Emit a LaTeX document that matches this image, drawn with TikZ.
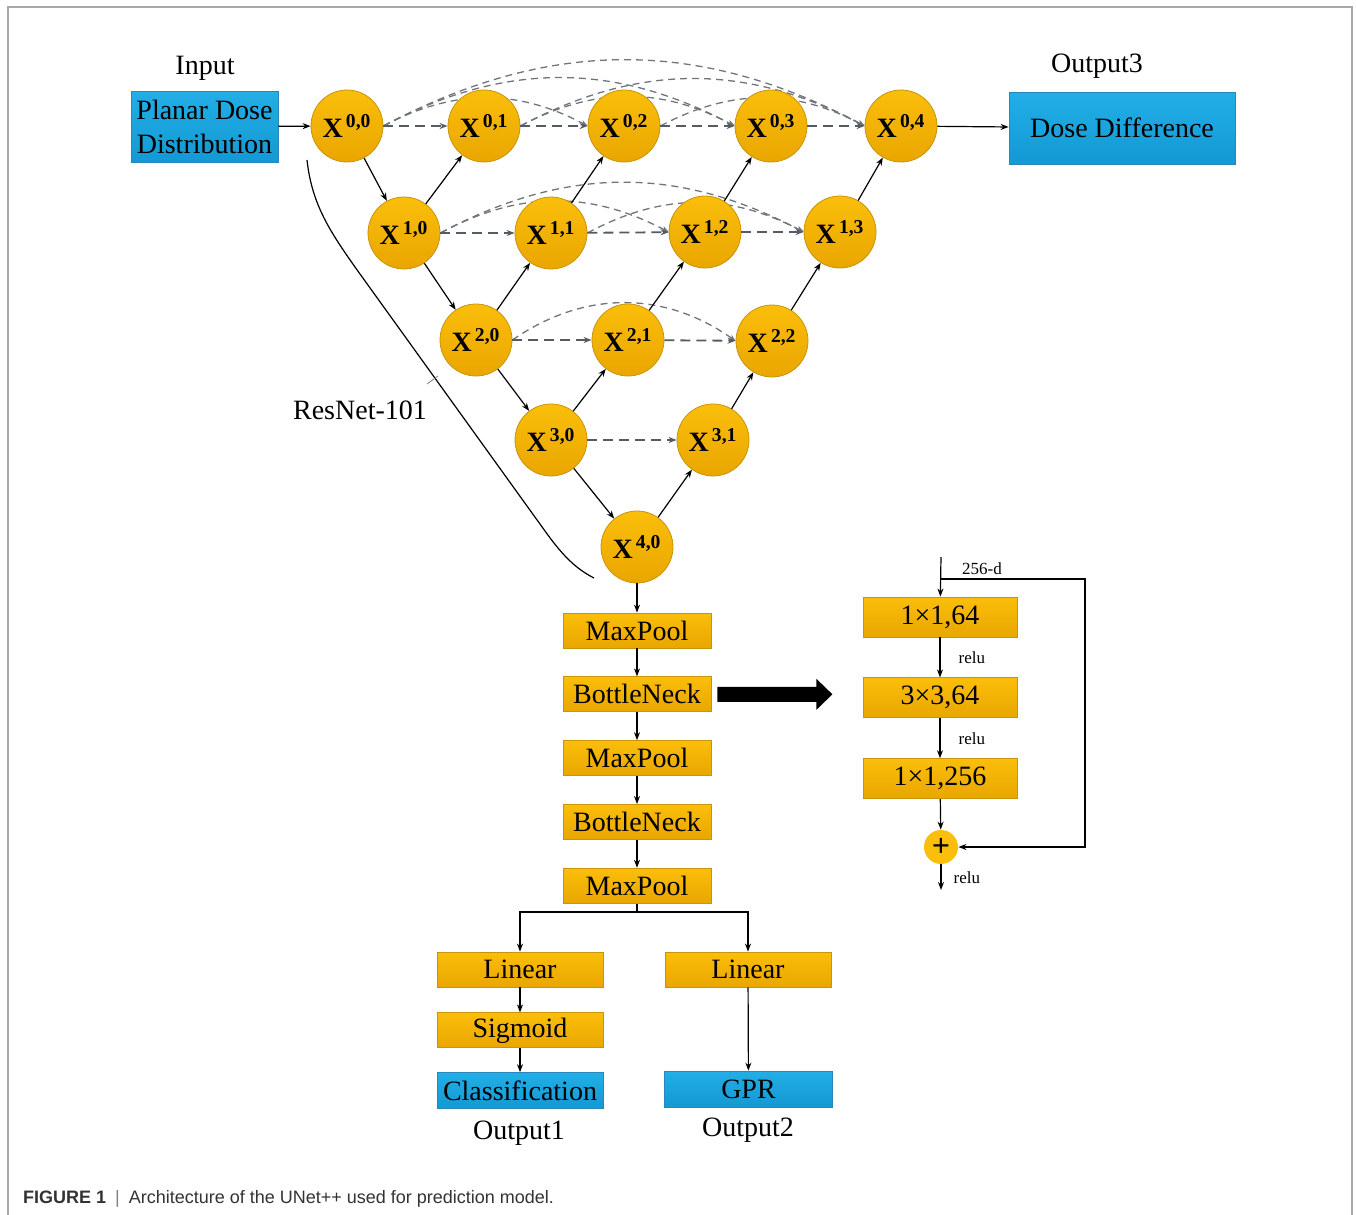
\documentclass[tikz,border=0pt]{standalone}
\usepackage{fontspec}
\setmainfont{Liberation Serif}
\newfontfamily\capfont{Liberation Sans}
\usepackage{xcolor}
\usetikzlibrary{arrows.meta,positioning,backgrounds}
\definecolor{nodeyellow}{HTML}{FBBE0A}
\definecolor{nodeyellowdk}{HTML}{E9A600}
\definecolor{nodeedge}{HTML}{C8940C}
\definecolor{outcyan}{HTML}{22AEE6}
\definecolor{outcyandk}{HTML}{1399D3}
\definecolor{cyanedge}{HTML}{2A88B8}
\definecolor{skipgray}{HTML}{555B63}
\definecolor{arcgray}{HTML}{70757C}
\definecolor{framegray}{HTML}{A8A8A8}
\newcommand{\xlabel}[2]{X\textsuperscript{\,#1,#2}}

\begin{document}
\begin{tikzpicture}[
        x=0.5pt, y=-0.5pt,
        font=\rmfamily\fontsize{14}{17}\selectfont,
        xnode/.style={circle, draw=nodeedge, top color=nodeyellow, bottom color=nodeyellowdk,
                      minimum size=36pt, inner sep=0pt, font=\rmfamily\bfseries\fontsize{14}{17}\selectfont},
        layer/.style={rectangle, draw=nodeedge, top color=nodeyellow, bottom color=nodeyellowdk,
                      minimum width=74pt, minimum height=17.5pt, inner sep=0pt},
        outbox/.style={rectangle, draw=cyanedge, top color=outcyan, bottom color=outcyandk,
                       inner sep=0pt, align=center, font=\rmfamily\fontsize{14}{17}\selectfont},
        lbl/.style={font=\rmfamily\fontsize{8.5}{10}\selectfont, inner sep=1pt},
        a/.style={-{Stealth[length=4pt, width=3pt]}, line width=0.6pt},
        skip/.style={-{Stealth[length=4pt, width=3pt]}, skipgray, line width=0.9pt,
                     dash pattern=on 5pt off 3pt},
        dense/.style={-{Stealth[length=3.5pt, width=2.8pt]}, arcgray, line width=0.65pt,
                      dash pattern=on 3.5pt off 2.5pt, bend left=28}
    ]
        \useasboundingbox (0,0) rectangle (1356,1215);
        \draw[framegray, line width=1pt] (8,1215) -- (8,7) -- (1352,7) -- (1352,1215);

        % UNet++ nodes
        \foreach \i/\j/\px/\py in {0/0/347/126, 0/1/484/126, 0/2/624/126, 0/3/771/126, 0/4/901/126,
                                    1/0/404/233, 1/1/551/233, 1/2/705/232, 1/3/840/232,
                                    2/0/476/340, 2/1/628/340, 2/2/772/341,
                                    3/0/551/440, 3/1/713/440,
                                    4/0/637/547}
            \node[xnode] (x\i\j) at (\px,\py) {\xlabel{\i}{\j}};

        \node[outbox, minimum width=73.5pt, minimum height=35.5pt] (planar) at (204.5,126.5) {Planar Dose\\Distribution};
        \node (input) at (205,68) {Input};
        \node[outbox, minimum width=113pt, minimum height=36pt] (dose) at (1122,128) {Dose Difference};
        \node (out3) at (1097,66) {Output3};

        \draw[a] (planar) -- (x00);
        \draw[a] (x04) -- (dose);

        \foreach \s/\t in {00/10, 10/20, 20/30, 30/40, 10/01, 20/11, 11/02, 30/21, 21/12,
                           12/03, 40/31, 31/22, 22/13, 13/04}
            \draw[a] (x\s) -- (x\t);
        \foreach \s/\t in {00/01, 01/02, 02/03, 03/04, 10/11, 11/12, 12/13, 20/21, 21/22, 30/31}
            \draw[skip] (x\s) -- (x\t);

        % dense skip connections
        \begin{scope}[on background layer]
            \foreach \s/\t in {00/02, 00/03, 00/04, 01/03, 01/04, 02/04, 10/12, 10/13, 11/13}
                \draw[dense] (x\s.east) to (x\t.west);
            \draw[dense, bend left=35] (x20.east) to (x22.west);
        \end{scope}

        % encoder bracket
        \draw[line width=0.6pt] (307,160) .. controls (312,205) and (330,232) .. (360,274)
            -- (545,531) .. controls (560,552) and (574,568) .. (594,578);
        \draw[gray, line width=0.4pt] (427,384) -- (438,376);
        \node (resnet) at (360,410) {ResNet-101};

        % classification / regression head
        \node[layer] (mp1) at (637,630.5) {MaxPool};
        \node[layer, below=14pt of mp1] (bn1) {BottleNeck};
        \node[layer, below=14pt of bn1] (mp2) {MaxPool};
        \node[layer, below=14pt of mp2] (bn2) {BottleNeck};
        \node[layer, below=14pt of bn2] (mp3) {MaxPool};
        \draw[a] (x40) -- (mp1);
        \draw[a] (mp1) -- (bn1);
        \draw[a] (bn1) -- (mp2);
        \draw[a] (mp2) -- (bn2);
        \draw[a] (bn2) -- (mp3);

        \coordinate (fork) at (637,912);
        \node[layer, minimum width=83pt] (lin1) at (520,969.5) {Linear};
        \node[layer, minimum width=83pt, below=12.5pt of lin1] (sig) {Sigmoid};
        \node[outbox, minimum width=83pt, minimum height=18pt, below=12pt of sig] (cls) {Classification};
        \node[layer, minimum width=83pt] (lin2) at (748,969.5) {Linear};
        \node[outbox, minimum width=84pt, minimum height=18pt] (gpr) at (748.5,1089) {GPR};
        \node (out1) at (519,1133) {Output1};
        \node (out2) at (748,1130) {Output2};

        \draw[line width=0.75pt] (mp3) -- (fork);
        \draw[a, line width=0.75pt] (fork) -| (lin1);
        \draw[a, line width=0.75pt] (fork) -| (lin2);
        \draw[a] (lin1) -- (sig);
        \draw[a] (sig) -- (cls);
        \draw[a] (lin2) -- (gpr);

        % bottleneck block
        \fill (bn1.east) ++(3pt,3.75pt) -- ++(49.5pt,0) -- ++(0,4pt) -- ++(8pt,-7.75pt)
            -- ++(-8pt,-7.75pt) -- ++(0,4pt) -- ++(-49.5pt,0) -- cycle;

        \node[layer, minimum width=77pt, minimum height=20pt] (r1) at (940,617) {1×1,64};
        \node[layer, minimum width=77pt, minimum height=20pt, below=20pt of r1] (r2) {3×3,64};
        \node[layer, minimum width=77pt, minimum height=20pt, below=20pt of r2] (r3) {1×1,256};
        \node[circle, fill=nodeyellow, minimum size=17pt, inner sep=0pt,
              font=\bfseries\fontsize{16}{17}\selectfont] (plus) at (941,847) {+};
        \coordinate (blockin) at (941,557);
        \coordinate (split) at (941,579);
        \coordinate (skipcorner) at (1085,579);
        \coordinate (blockout) at (941,890);

        \draw[a] (blockin) -- (r1);
        \draw[a] (split) -- (skipcorner) |- (plus.east);
        \node[lbl] (dim) at (982,569) {256-d};
        \draw[a] (r1) -- node[lbl, right=8pt] {relu} (r2);
        \draw[a] (r2) -- node[lbl, right=8pt] {relu} (r3);
        \draw[a] (r3) -- (plus);
        \draw[a] (plus) -- node[lbl, right=5pt] {relu} (blockout);

        \node[anchor=west, font=\capfont\fontsize{9}{11}\selectfont, text=black!80] (caption) at (16,1199)
            {\textbf{FIGURE 1}\enspace{\color{gray}|}\enspace Architecture of the UNet++ used for prediction model.};
    \end{tikzpicture}
\end{document}
